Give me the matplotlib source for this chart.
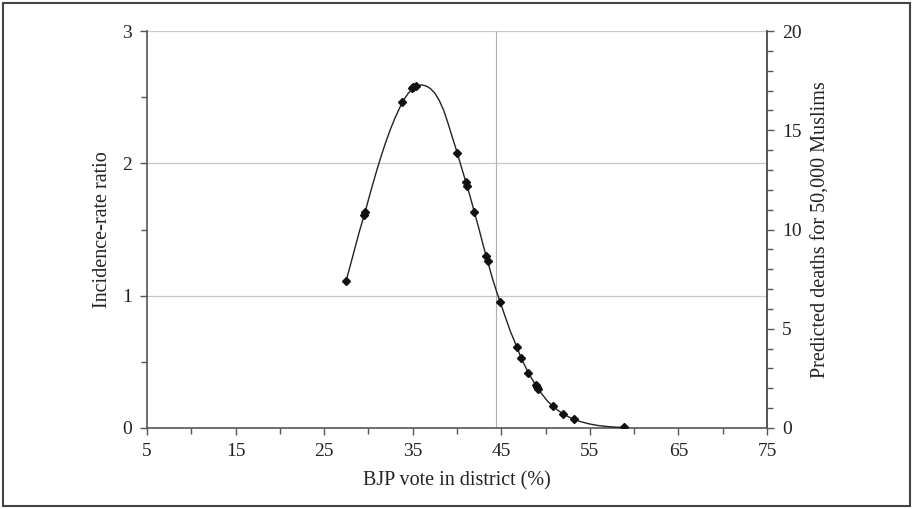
import numpy as np
import matplotlib
matplotlib.use("Agg")
import matplotlib.pyplot as plt
from matplotlib.patches import Rectangle
from matplotlib.ticker import MultipleLocator

# Fitted curve (BJP vote %, incidence-rate ratio)
curve_x = [27.47, 28.0, 28.5, 29.0, 29.6, 30.0, 30.5, 31.0, 31.5, 32.0,
           32.5, 33.0, 33.5, 33.76, 34.0, 34.5, 35.0, 35.5, 36.0, 36.5,
           37.0, 37.5, 38.0, 38.5, 39.0, 39.5, 40.03, 40.5, 41.0, 41.5,
           41.95, 42.5, 43.0, 43.5, 44.0, 44.5, 44.86, 45.5, 46.0, 46.74,
           47.23, 48.05, 48.9, 49.6, 50.2, 50.81, 51.4, 52.0, 52.6, 53.21,
           54.0, 55.0, 56.0, 57.0, 58.0, 58.82]
curve_y = [1.11, 1.24, 1.365, 1.49, 1.625, 1.725, 1.845, 1.96, 2.068, 2.168,
           2.26, 2.343, 2.415, 2.452, 2.48, 2.53, 2.565, 2.585, 2.593, 2.585,
           2.565, 2.53, 2.475, 2.40, 2.30, 2.19, 2.08, 1.97, 1.86, 1.745,
           1.635, 1.50, 1.37, 1.25, 1.13, 1.025, 0.955, 0.83, 0.735, 0.615,
           0.53, 0.418, 0.322, 0.255, 0.205, 0.166, 0.133, 0.106, 0.084, 0.066,
           0.047, 0.030, 0.018, 0.011, 0.006, 0.004]

# Districts (diamond markers)
district_x = [27.47, 29.50, 29.61, 33.76, 34.89, 35.07, 35.34, 40.03, 40.98,
              41.14, 41.95, 43.27, 43.49, 44.86, 46.74, 47.23, 48.05, 48.89,
              49.00, 49.18, 50.81, 52.00, 53.21, 58.82]
district_y = [1.11, 1.61, 1.635, 2.462, 2.568, 2.575, 2.583, 2.08, 1.862,
              1.829, 1.63, 1.30, 1.262, 0.955, 0.615, 0.529, 0.418, 0.325,
              0.312, 0.295, 0.166, 0.106, 0.066, 0.005]

mean_vote = 44.4  # vertical reference line

x_ticks = [5, 15, 25, 35, 45, 55, 65, 75]
left_ticks = [0, 1, 2, 3]
right_ticks = [0, 5, 10, 15, 20]

plt.rcParams['font.family'] = ['Liberation Serif', 'DejaVu Serif']

fig = plt.figure(figsize=(9.13, 5.09), dpi=100)
ax = fig.add_axes([147 / 913, 1 - 428 / 509, 620 / 913, 397 / 509])

axis_col = '#555555'
grid_col = '#c8c8c8'
text_col = '#222222'

for yv in left_ticks[1:]:
    ax.axhline(yv, color=grid_col, lw=0.9, zorder=1)
ax.axvline(mean_vote, color='#b0b0b0', lw=0.8, zorder=1)

ax.plot(curve_x, curve_y, color='#222222', lw=1.0, zorder=3)
ax.plot(district_x, district_y, linestyle='none', marker='D', ms=4.2,
        color='#111111', zorder=4)

ax.set_xlim(5, 75)
ax.set_ylim(0, 3)
ax.set_xticks(x_ticks)
ax.xaxis.set_minor_locator(MultipleLocator(5))
ax.set_yticks(left_ticks)
ax.yaxis.set_minor_locator(MultipleLocator(0.5))

ax.spines['top'].set_visible(False)
for s in ['left', 'bottom', 'right']:
    ax.spines[s].set_color(axis_col)
    ax.spines[s].set_linewidth(1.2)

ax.tick_params(axis='both', which='both', direction='out', color=axis_col,
               width=1.0, labelsize=14, labelcolor=text_col)
ax.tick_params(axis='both', which='major', length=5, pad=6)
ax.tick_params(axis='both', which='minor', length=4)

ax.set_xlabel('BJP vote in district (%)', fontsize=14.5, color=text_col,
              labelpad=8)
ax.set_ylabel('Incidence-rate ratio', fontsize=14.5, color=text_col,
              labelpad=7)

ax2 = ax.twinx()
ax2.set_ylim(0, 20)
ax2.set_yticks(right_ticks)
ax2.yaxis.set_minor_locator(MultipleLocator(1))
for s in ['top', 'left', 'bottom']:
    ax2.spines[s].set_visible(False)
ax2.spines['right'].set_color(axis_col)
ax2.spines['right'].set_linewidth(1.2)
ax2.tick_params(axis='y', which='both', direction='out', color=axis_col,
                width=1.0, labelsize=14, labelcolor=text_col)
ax2.tick_params(axis='y', which='major', length=5, pad=6)
ax2.tick_params(axis='y', which='minor', length=4)
ax2.set_ylabel('Predicted deaths for 50,000 Muslims', fontsize=14.5,
               color=text_col, labelpad=7)

fig.patches.append(Rectangle((3 / 913, 3 / 509), 907 / 913, 503 / 509,
                             transform=fig.transFigure, fill=False,
                             edgecolor='#444444', lw=1.5))

fig.savefig('out.png', dpi=100)
